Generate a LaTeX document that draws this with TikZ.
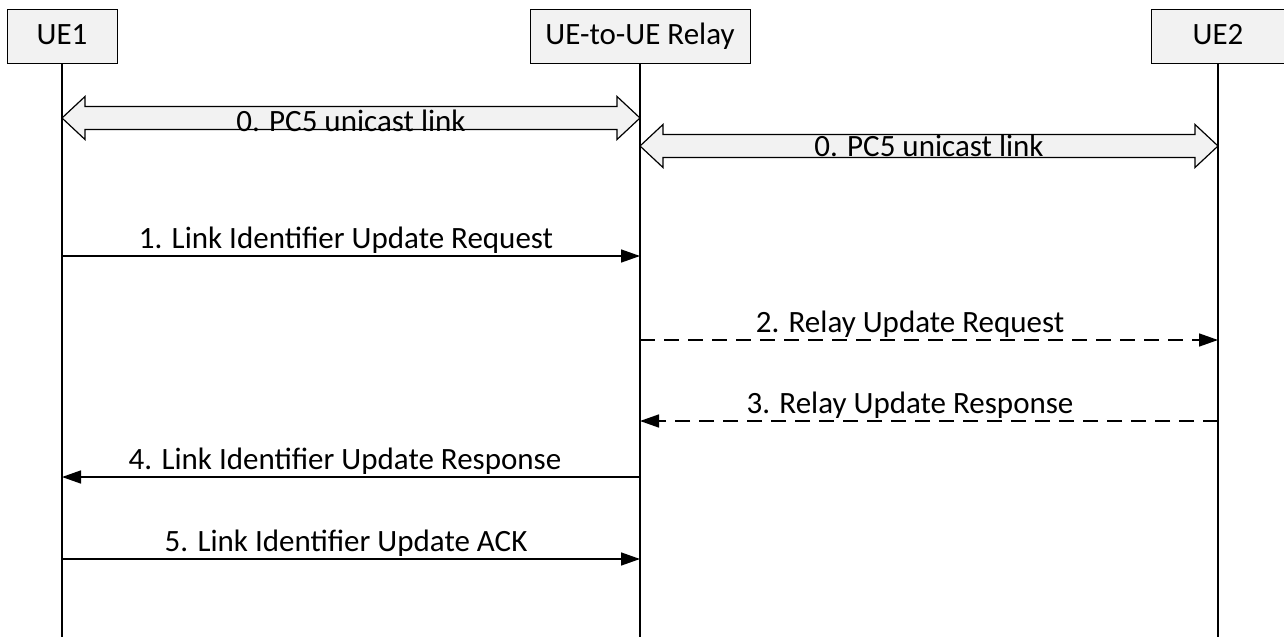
\documentclass[tikz,border=0pt]{standalone}
\usepackage{fontspec}
\setmainfont{Carlito}
\usetikzlibrary{positioning, arrows.meta, calc}
\definecolor{boxgray}{HTML}{F2F2F2}
\tikzset{
    every node/.style={
        font=\fontsize{15.5}{18}\selectfont
    },
    entity/.style={
        draw=black,
        fill=boxgray,
        line width=0.5pt,
        minimum height=27pt,
        text height=10.5pt,
        text depth=2.5pt,
        inner sep=0pt
    },
    lifeline/.style={
        draw=black,
        line width=0.9pt
    },
    msg/.style={
        -{Triangle[length=9.5pt,width=6.5pt]},
        line width=0.75pt
    },
    dashmsg/.style={
        msg,
        dash pattern=on 7.5pt off 4.5pt
    },
    bigarrow/.style={
        draw=black,
        fill=boxgray,
        line width=0.6pt
    }
}

\begin{document}
\begin{tikzpicture}[x=0.5pt, y=-0.5pt]
            \useasboundingbox (0,0) rectangle (1284,637);

            % Entities
            \node (ue1) [
                entity,
                minimum width=55pt,
            ] at (62,36) {UE1};
            \node (relay) [
                entity,
                minimum width=110pt,
            ] at (640,36) {UE-to-UE Relay};
            \node (ue2) [
                entity,
                minimum width=67pt,
            ] at (1218,36) {UE2};

            % Points on the lifelines
            \foreach \n/\y in {p1/118, p2/146, m1/256, m2/340, m3/421, m4/477, m5/559, end/637} {
                \coordinate (\n-ue1) at (62,\y);
                \coordinate (\n-rel) at (640,\y);
                \coordinate (\n-ue2) at (1218,\y);
            }

            % Lifelines
            \draw [lifeline] (ue1) -- (end-ue1);
            \draw [lifeline] (relay) -- (end-rel);
            \draw [lifeline] (ue2) -- (end-ue2);

            % 0. PC5 links
            \draw [bigarrow] (p1-ue1) -- ++(23,-21.5) -- ++(0,10) -- ($(p1-rel)+(-23,-11.5)$) -- ++(0,-10)
                -- (p1-rel) -- ++(-23,21.5) -- ++(0,-10) -- ($(p1-ue1)+(23,11.5)$) -- ++(0,10) -- cycle;
            \draw [bigarrow] (p2-rel) -- ++(23,-21.5) -- ++(0,10) -- ($(p2-ue2)+(-23,-11.5)$) -- ++(0,-10)
                -- (p2-ue2) -- ++(-23,21.5) -- ++(0,-10) -- ($(p2-rel)+(23,11.5)$) -- ++(0,10) -- cycle;
            \path (p1-ue1) -- node [yshift=-1.5pt] {0. PC5 unicast link} (p1-rel);
            \path (p2-rel) -- node {0. PC5 unicast link} (p2-ue2);

            % Messages
            \path [msg]
                (m1-ue1) edge node [above, inner sep=1pt, xshift=-2.5pt] {1. Link Identifier Update Request} (m1-rel)
                (m4-rel) edge node [above, inner sep=1pt, xshift=-3pt] {4. Link Identifier Update Response} (m4-ue1)
                (m5-ue1) edge node [above, inner sep=1pt, xshift=-2.5pt] {5. Link Identifier Update ACK} (m5-rel)
            ;
            \path [dashmsg]
                (m2-rel) edge node [above, inner sep=1pt, xshift=-9.5pt] {2. Relay Update Request} (m2-ue2)
                (m3-ue2) edge node [above, inner sep=1pt, xshift=-9.5pt] {3. Relay Update Response} (m3-rel)
            ;
        \end{tikzpicture}
\end{document}
